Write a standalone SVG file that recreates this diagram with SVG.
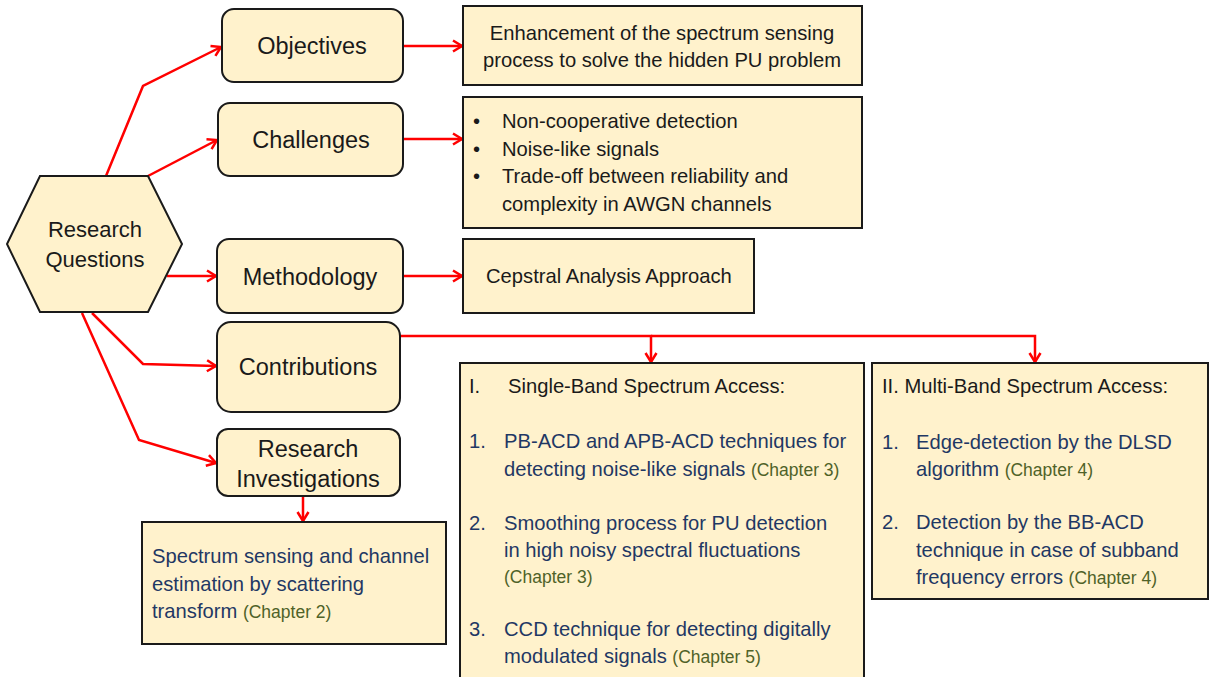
<svg xmlns="http://www.w3.org/2000/svg" width="1209" height="677" viewBox="0 0 1209 677">
<defs>
<marker id="ah" markerUnits="userSpaceOnUse" markerWidth="14" markerHeight="14" viewBox="0 0 14 14" refX="12" refY="7" orient="auto">
<path d="M3,1.5 L12,7 L3,12.5" fill="none" stroke="#ff0000" stroke-width="2.5"/>
</marker>
<style>
.box{fill:#fff2cc;stroke:#1a1a1a;stroke-width:2}
.t{font-family:"Liberation Sans",Arial,sans-serif;fill:#1a1a1a}
.big{font-size:23.5px}
.hex{font-size:22px}
.mid{font-size:20.2px}
.nv{fill:#1f3864}
.ch{fill:#4f6228;font-size:17.5px}
.c{stroke:#ff0000;stroke-width:2.5;fill:none;marker-end:url(#ah)}
</style>
</defs>
<rect width="1209" height="677" fill="#ffffff"/>
<g id="connectors">
<polyline class="c" points="106,176 143,86 221,47"/>
<polyline class="c" points="148,176 217,140"/>
<polyline class="c" points="167,276 216,276"/>
<polyline class="c" points="92,313 143,364 216,366"/>
<polyline class="c" points="82,313 139,440 216,463"/>
<polyline class="c" points="303,497 303,521"/>
<polyline class="c" points="403,46 462,46"/>
<polyline class="c" points="403,139 462,139"/>
<polyline class="c" points="403,276 462,276"/>
<polyline class="c" points="400,336 651,336 651,362"/>
<polyline class="c" points="651,336 1035,336 1035,362"/>
</g>
<g id="research-questions">
<polygon class="box" points="40,176 148,176 182,244 148,312 40,312 7,244"/>
<text class="t hex" x="95" y="237" text-anchor="middle">Research</text>
<text class="t hex" x="95" y="267" text-anchor="middle">Questions</text>
</g>
<g id="objectives">
<rect class="box" x="222" y="9" width="181" height="73" rx="12"/>
<text class="t big" x="312" y="54" text-anchor="middle">Objectives</text>
</g>
<g id="challenges">
<rect class="box" x="218" y="103" width="185" height="73" rx="12"/>
<text class="t big" x="311" y="148" text-anchor="middle">Challenges</text>
</g>
<g id="methodology">
<rect class="box" x="217" y="239" width="186" height="74" rx="12"/>
<text class="t big" x="310" y="285" text-anchor="middle">Methodology</text>
</g>
<g id="contributions">
<rect class="box" x="217" y="322" width="183" height="90" rx="14"/>
<text class="t big" x="308" y="375" text-anchor="middle">Contributions</text>
</g>
<g id="research-investigations">
<rect class="box" x="217" y="429" width="183" height="67" rx="11"/>
<text class="t big" x="308" y="457" text-anchor="middle">Research</text>
<text class="t big" x="308" y="487" text-anchor="middle">Investigations</text>
</g>
<g id="objective-detail">
<rect class="box" x="463" y="6" width="399" height="79"/>
<text class="t mid" x="662" y="40" text-anchor="middle">Enhancement of the spectrum sensing</text>
<text class="t mid" x="662" y="67" text-anchor="middle">process to solve the hidden PU problem</text>
</g>
<g id="challenge-detail">
<rect class="box" x="463" y="97" width="399" height="131"/>
<text class="t mid" x="473" y="128">•</text>
<text class="t mid" x="502" y="128">Non-cooperative detection</text>
<text class="t mid" x="473" y="156">•</text>
<text class="t mid" x="502" y="156">Noise-like signals</text>
<text class="t mid" x="473" y="183">•</text>
<text class="t mid" x="502" y="183">Trade-off between reliability and</text>
<text class="t mid" x="502" y="211">complexity in AWGN channels</text>
</g>
<g id="methodology-detail">
<rect class="box" x="463" y="239" width="291" height="74"/>
<text class="t mid" x="486" y="283">Cepstral Analysis Approach</text>
</g>
<g id="scattering">
<rect class="box" x="142" y="522" width="304" height="122"/>
<text class="t mid nv" x="152" y="563">Spectrum sensing and channel</text>
<text class="t mid nv" x="152" y="591">estimation by scattering</text>
<text class="t mid nv" x="152" y="618">transform <tspan class="ch">(Chapter 2)</tspan></text>
</g>
<g id="single-band">
<rect class="box" x="460" y="363" width="404" height="320"/>
<text class="t mid" x="469" y="393">I.</text>
<text class="t mid" x="508" y="393">Single-Band Spectrum Access:</text>
<text class="t mid nv" x="469" y="448">1.</text>
<text class="t mid nv" x="504" y="448">PB-ACD and APB-ACD techniques for</text>
<text class="t mid nv" x="504" y="476">detecting noise-like signals <tspan class="ch">(Chapter 3)</tspan></text>
<text class="t mid nv" x="469" y="530">2.</text>
<text class="t mid nv" x="504" y="530">Smoothing process for PU detection</text>
<text class="t mid nv" x="504" y="557">in high noisy spectral fluctuations</text>
<text class="t ch" x="504" y="583">(Chapter 3)</text>
<text class="t mid nv" x="469" y="636">3.</text>
<text class="t mid nv" x="504" y="636">CCD technique for detecting digitally</text>
<text class="t mid nv" x="504" y="663">modulated signals <tspan class="ch">(Chapter 5)</tspan></text>
</g>
<g id="multi-band">
<rect class="box" x="872" y="363" width="336" height="236"/>
<text class="t mid" x="882" y="393">II. Multi-Band Spectrum Access:</text>
<text class="t mid nv" x="882" y="449">1.</text>
<text class="t mid nv" x="916" y="449">Edge-detection by the DLSD</text>
<text class="t mid nv" x="916" y="476">algorithm <tspan class="ch">(Chapter 4)</tspan></text>
<text class="t mid nv" x="882" y="529">2.</text>
<text class="t mid nv" x="916" y="529">Detection by the BB-ACD</text>
<text class="t mid nv" x="916" y="557">technique in case of subband</text>
<text class="t mid nv" x="916" y="584">frequency errors <tspan class="ch">(Chapter 4)</tspan></text>
</g>
</svg>
